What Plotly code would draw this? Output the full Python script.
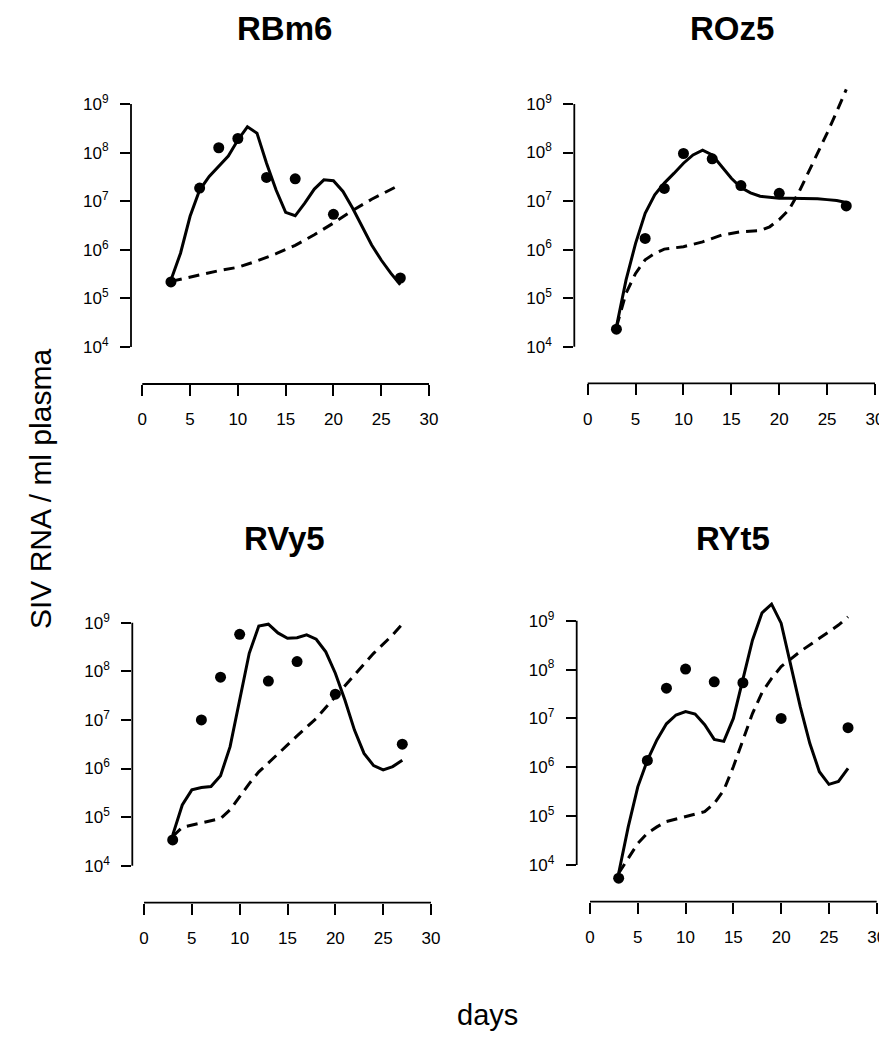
import numpy as np
import plotly.graph_objects as go

# browser window 887x1038; the page body has an 8px default margin,
# so figure pixel = screen pixel - OFF
WIN_W, WIN_H = 887, 1038
OFF = 8
W, H = WIN_W, WIN_H

# ---------------- data (log10 of SIV RNA copies / ml plasma) ----------------
obs_days = [3, 6, 8, 10, 13, 16, 20, 27]
model_days = list(range(3, 28))

titles = ["RBm6", "ROz5", "RVy5", "RYt5"]

rbm6_obs = [5.34, 7.27, 8.10, 8.29, 7.49, 7.46, 6.73, 5.42]
rbm6_solid = [5.38, 5.93, 6.69, 7.23, 7.51, 7.73, 7.93, 8.26, 8.53, 8.40, 7.78, 7.23, 6.77,
              6.70, 6.96, 7.25, 7.44, 7.42, 7.20, 6.86, 6.48, 6.10, 5.79, 5.52, 5.28]
rbm6_dash_days = [3, 6, 8, 10, 12, 14, 16, 18, 20, 22, 24, 27]
rbm6_dash = [5.35, 5.49, 5.57, 5.64, 5.77, 5.92, 6.09, 6.31, 6.55, 6.81, 7.04, 7.34]

roz5_obs = [4.36, 6.23, 7.26, 7.98, 7.87, 7.32, 7.16, 6.90]
roz5_solid = [4.41, 5.37, 6.13, 6.75, 7.13, 7.37, 7.57, 7.78, 7.95, 8.05, 7.95, 7.70, 7.47,
              7.28, 7.17, 7.10, 7.08, 7.06, 7.06, 7.06, 7.055, 7.05, 7.03, 7.01, 6.97]
roz5_dash_days = [3, 4, 5, 6, 7, 8, 10, 12, 14, 16, 18, 19, 20, 21, 22, 23, 24, 25, 26, 27]
roz5_dash = [4.40, 5.10, 5.51, 5.79, 5.92, 6.01, 6.06, 6.16, 6.30, 6.37, 6.39, 6.47, 6.62,
             6.82, 7.16, 7.57, 7.98, 8.40, 8.84, 9.30]

rvy5_obs = [4.53, 7.00, 7.88, 8.76, 7.80, 8.20, 7.53, 6.50]
rvy5_solid = [4.63, 5.25, 5.56, 5.61, 5.63, 5.85, 6.45, 7.41, 8.37, 8.93, 8.97, 8.79, 8.68,
              8.69, 8.75, 8.66, 8.40, 7.96, 7.41, 6.79, 6.31, 6.06, 5.97, 6.04, 6.17]
rvy5_dash_days = [3, 4, 6, 8, 9, 10, 11, 12, 14, 16, 18, 20, 22, 24, 26, 27]
rvy5_dash = [4.60, 4.79, 4.88, 4.97, 5.15, 5.42, 5.69, 5.93, 6.31, 6.67, 7.03, 7.48, 7.92,
             8.37, 8.75, 8.97]

ryt5_obs = [3.73, 6.14, 7.62, 8.01, 7.75, 7.73, 7.00, 6.81]
ryt5_solid = [3.83, 4.78, 5.60, 6.14, 6.56, 6.89, 7.07, 7.14, 7.09, 6.87, 6.57, 6.53, 7.00,
              7.79, 8.60, 9.16, 9.34, 8.95, 8.06, 7.24, 6.49, 5.91, 5.65, 5.71, 5.98]
ryt5_dash_days = [3, 4, 5, 6, 7, 8, 10, 12, 13, 14, 15, 16, 17, 18, 19, 20, 21, 22, 24, 26, 27]
ryt5_dash = [3.83, 4.14, 4.44, 4.65, 4.78, 4.89, 4.99, 5.09, 5.26, 5.53, 6.01, 6.56, 7.10,
             7.53, 7.82, 8.06, 8.21, 8.37, 8.64, 8.91, 9.08]

x_ticks = [0, 5, 10, 15, 20, 25, 30]
y_tick_exps = [4, 5, 6, 7, 8, 9]

panels = [
    (rbm6_obs, rbm6_solid, rbm6_dash_days, rbm6_dash),
    (roz5_obs, roz5_solid, roz5_dash_days, roz5_dash),
    (rvy5_obs, rvy5_solid, rvy5_dash_days, rvy5_dash),
    (ryt5_obs, ryt5_solid, ryt5_dash_days, ryt5_dash),
]

# ---------------- layout geometry (screen pixels) ----------------
# (y-axis line x, x=0 px, x=30 px, 1e9 px, 1e4 px, x-axis line y, title centre x, title centre y)
geom = [
    (131.0, 142.3, 429.0, 104.0, 347.0, 384.0, 284, None),
    (574.3, 587.7, 875.0, 104.0, 346.7, 383.3, 732, None),
    (132.3, 144.0, 431.0, 622.7, 865.7, 902.7, 284, 538),
    (576.7, 590.0, 876.7, 620.7, 865.0, 901.7, 733, 538),
]


def px(sx):
    return (sx - OFF) / W


def py(sy):
    return 1 - (sy - OFF) / H


font_family = "Liberation Sans, Arial, Helvetica, sans-serif"
fig = go.Figure()
shapes = []
annotations = []

for i, ((obs, solid, ddays, dash), g) in enumerate(zip(panels, geom)):
    left, x0p, x30p, y9p, y4p, xaxp, tcx, tcy = g
    right = x30p + 9
    top = y9p - 44
    bottom = xaxp
    ppu = (x30p - x0p) / 30.0
    ppd = (y4p - y9p) / 5.0
    xr = [(left - x0p) / ppu, (right - x0p) / ppu]
    yr = [9 - (bottom - y9p) / ppd, 9 + (y9p - top) / ppd]
    n = "" if i == 0 else str(i + 1)
    xa, ya = "x" + n, "y" + n

    fig.add_trace(go.Scatter(x=model_days, y=10 ** np.array(solid), mode="lines",
                             line=dict(color="black", width=3), xaxis=xa, yaxis=ya,
                             showlegend=False, hoverinfo="skip"))
    fig.add_trace(go.Scatter(x=ddays, y=10 ** np.array(dash), mode="lines",
                             line=dict(color="black", width=3, dash="11px,7px"),
                             xaxis=xa, yaxis=ya, showlegend=False, hoverinfo="skip"))
    fig.add_trace(go.Scatter(x=obs_days, y=10 ** np.array(obs), mode="markers",
                             marker=dict(color="black", size=11), xaxis=xa, yaxis=ya,
                             showlegend=False, cliponaxis=False))

    fig.update_layout(**{
        "xaxis" + n: dict(domain=[px(left), px(right)], range=xr, anchor=ya,
                          showgrid=False, zeroline=False, showline=False,
                          tickmode="array", tickvals=x_ticks,
                          ticktext=[str(t) for t in x_ticks],
                          ticks="outside", ticklen=11, tickwidth=1.6, tickcolor="black",
                          ticklabelstandoff=9, ticklabeloverflow="allow",
                          tickfont=dict(size=17, color="black", family=font_family)),
        "yaxis" + n: dict(domain=[py(bottom), py(top)], type="log", range=yr,
                          anchor=xa, showgrid=False, zeroline=False, showline=False,
                          tickmode="array", tickvals=[10 ** e for e in y_tick_exps],
                          ticktext=["10<sup>%d</sup>" % e for e in y_tick_exps],
                          ticks="outside", ticklen=10, tickwidth=1.6, tickcolor="black",
                          ticklabelstandoff=8, ticklabeloverflow="allow",
                          tickfont=dict(size=17, color="black", family=font_family)),
    })
    shapes.append(dict(type="line", xref=xa, yref=ya + " domain", x0=x_ticks[0],
                       x1=x_ticks[-1], y0=0, y1=0, line=dict(color="black", width=1.8)))
    shapes.append(dict(type="line", xref=xa + " domain", yref=ya, x0=0, x1=0,
                       y0=10 ** y_tick_exps[0], y1=10 ** y_tick_exps[-1],
                       line=dict(color="black", width=1.8)))
    if tcy is None:
        annotations.append(dict(text="<b>%s</b>" % titles[i], x=px(tcx), y=1.0,
                                xref="paper", yref="paper", xanchor="center", yanchor="top",
                                showarrow=False,
                                font=dict(size=33, color="black", family=font_family)))
    else:
        annotations.append(dict(text="<b>%s</b>" % titles[i], x=px(tcx), y=py(tcy),
                                xref="paper", yref="paper", xanchor="center",
                                yanchor="middle", showarrow=False,
                                font=dict(size=33, color="black", family=font_family)))

annotations.append(dict(text="SIV RNA / ml plasma", x=px(40), y=py(489),
                        xref="paper", yref="paper", textangle=-90, xanchor="center",
                        yanchor="middle", showarrow=False,
                        font=dict(size=30, color="black", family=font_family)))
annotations.append(dict(text="days", x=px(455), y=py(1015), xref="paper", yref="paper",
                        xanchor="left", yanchor="middle", showarrow=False,
                        font=dict(size=29, color="black", family=font_family)))

fig.update_layout(width=W, height=H, margin=dict(l=0, r=0, t=0, b=0),
                  paper_bgcolor="white", plot_bgcolor="white",
                  shapes=shapes, annotations=annotations)

fig.write_html("out.html")
